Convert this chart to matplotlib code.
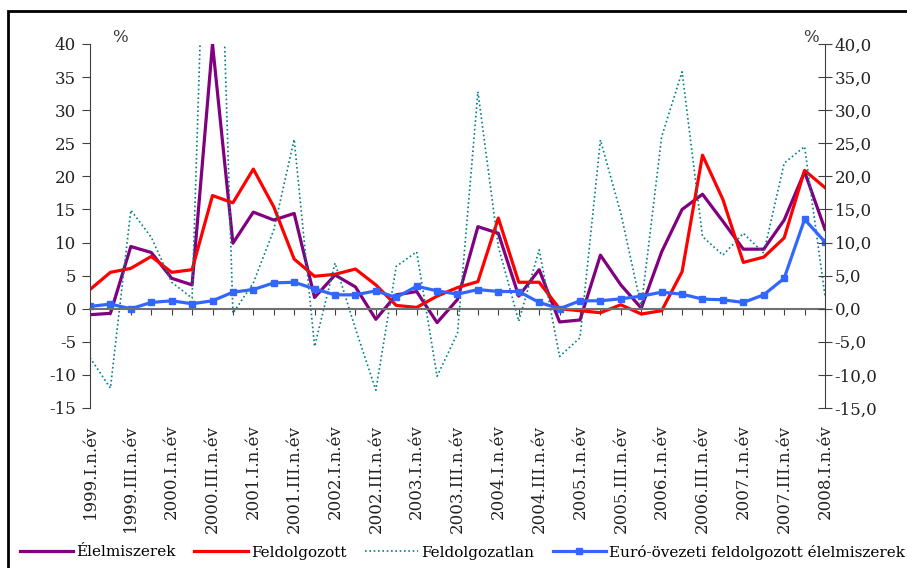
import numpy as np
import matplotlib.pyplot as plt
from matplotlib.patches import Rectangle

plt.rcParams['font.family'] = ['DejaVu Serif']
plt.rcParams['font.size'] = 12
plt.rcParams['axes.unicode_minus'] = False

# quarterly data, 1999.I - 2008.I
quarters = [f'{y}.{q}.n.év' for y in range(1999, 2009)
            for q in ['I', 'II', 'III', 'IV']][:37]
tick_labels = quarters[::2]

elelmiszerek = [-0.9, -0.7, 9.4, 8.5, 4.6, 3.6, 40.0, 9.9, 14.6, 13.4,
                14.4, 1.7, 5.1, 3.3, -1.6, 2.1, 2.6, -2.1, 1.4, 12.4,
                11.4, 1.9, 5.9, -2.0, -1.7, 8.1, 3.6, 0.1, 8.6, 15.0,
                17.3, 13.2, 9.0, 9.0, 13.4, 20.7, 12.0]
feldolgozott = [2.9, 5.5, 6.1, 7.9, 5.5, 5.9, 17.1, 16.0, 21.1, 15.4,
                7.5, 4.9, 5.2, 6.0, 3.6, 0.5, 0.2, 1.9, 3.2, 4.1,
                13.7, 4.0, 4.0, 0.0, -0.3, -0.6, 0.6, -0.8, -0.3, 5.6,
                23.2, 16.5, 7.0, 7.8, 10.7, 20.9, 18.3]
feldolgozatlan = [-7.4, -12.0, 14.9, 10.8, 4.0, 1.6, 100.0, -0.7, 3.9, 11.9,
                  25.6, -5.7, 6.9, -3.0, -12.3, 6.4, 8.6, -10.2, -3.7, 32.8,
                  9.4, -1.9, 8.9, -7.2, -4.4, 25.5, 14.4, 0.3, 26.0, 35.8,
                  10.9, 8.1, 11.4, 8.4, 22.0, 24.5, 1.9]
euro_ovezeti = [0.35, 0.7, 0.0, 0.95, 1.2, 0.75, 1.2, 2.5, 2.9, 3.9,
                4.0, 3.0, 2.1, 2.1, 2.7, 1.7, 3.4, 2.7, 2.2, 2.9,
                2.6, 2.6, 0.95, 0.0, 1.2, 1.2, 1.5, 1.9, 2.5, 2.2,
                1.45, 1.35, 0.95, 2.1, 4.6, 13.5, 10.1]

yticks = list(range(-15, 41, 5))

fig = plt.figure(figsize=(9.07, 5.68), dpi=100)
ax = fig.add_axes([90 / 907, 1 - 408 / 568, 735 / 907, 364 / 568])
x = np.arange(len(quarters))

ax.plot(x, elelmiszerek, color='#800080', lw=2.3, label='Élelmiszerek')
ax.plot(x, feldolgozott, color='#ff0000', lw=2.3, label='Feldolgozott')
ax.plot(x, feldolgozatlan, color='#008080', lw=1.2, ls=(0, (1, 1.6)),
        label='Feldolgozatlan')
ax.plot(x, euro_ovezeti, color='#3366ff', lw=2.3, marker='s', ms=5,
        label='Euró-övezeti feldolgozott élelmiszerek')

ax.set_xlim(0, len(quarters) - 1)
ax.set_ylim(-15, 40)
ax.set_yticks(yticks)
ax.tick_params(axis='y', direction='out', length=6, color='#404040',
               labelcolor='#222222', pad=4)
ax.spines['top'].set_visible(False)
ax.spines['right'].set_visible(False)
ax.spines['left'].set_color('#404040')
ax.spines['bottom'].set_position(('data', 0))
ax.spines['bottom'].set_color('#707070')
ax.spines['bottom'].set_linewidth(1.5)
ax.set_xticks(x)
ax.tick_params(axis='x', direction='out', length=4.5, color='#404040',
               labelbottom=False)

sec = ax.secondary_xaxis('bottom')
sec.set_xticks(x[::2], tick_labels, rotation=90)
sec.tick_params(length=0, pad=12, labelcolor='#222222')
sec.spines['bottom'].set_visible(False)

ax2 = ax.twinx()
ax2.set_ylim(-15, 40)
ax2.set_yticks(yticks, [f'{v:.1f}'.replace('.', ',') for v in yticks])
ax2.tick_params(axis='y', direction='inout', length=10, color='#404040',
                labelcolor='#222222', pad=2)
for s in ['top', 'left', 'bottom']:
    ax2.spines[s].set_visible(False)
ax2.spines['right'].set_color('#404040')

ax.annotate('%', (120, 530), xycoords='figure pixels', ha='center',
            va='center', color='#333333')
ax.annotate('%', (811, 530), xycoords='figure pixels', ha='center',
            va='center', color='#333333')

fig.legend(*ax.get_legend_handles_labels(), loc='center',
           bbox_to_anchor=(0.51, 1 - 552 / 568), ncol=4, frameon=False,
           handlelength=3.5, handletextpad=0.2, columnspacing=1.2,
           borderaxespad=0, fontsize=11)

fig.patches.append(Rectangle((8 / 907, -0.1), 1.2, 1.1 - 11 / 568,
                             transform=fig.transFigure, fill=False,
                             edgecolor='black', lw=2))

fig.savefig('out.png', dpi=100)
